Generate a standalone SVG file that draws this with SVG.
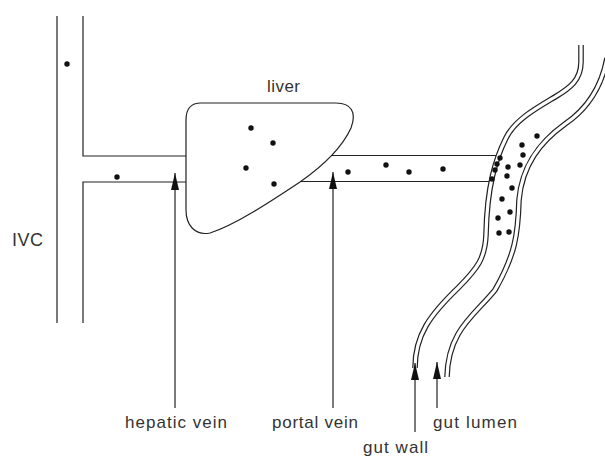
<svg xmlns="http://www.w3.org/2000/svg" width="605" height="457" viewBox="0 0 605 457">
<style>
.ln{fill:none;stroke:#222;stroke-width:1.2}
.wo{fill:none;stroke:#222;stroke-width:5.6}
.wi{fill:none;stroke:#fff;stroke-width:3.2}
.dot{fill:#111}
.lbl{font-family:"Liberation Sans",Arial,sans-serif;font-size:17px;fill:#333}
.arr{fill:none;stroke:#222;stroke-width:1.2;marker-end:url(#ah)}
</style>
<defs>
<marker id="ah" markerUnits="userSpaceOnUse" viewBox="0 0 17 8" refX="17" refY="4" markerWidth="17" markerHeight="8" orient="auto">
<path d="M0,0 L17,4 L0,8 z" fill="#111"/>
</marker>
<path id="lw" d="M581,45 L581,62 C581,80 570,88 555,97 C535,109 515,120 506,138 C496,158 487,185 486,235 C485,258 478,268 458,288 C430,315 415,335 415,368"/>
<path id="rw" d="M607,58 C602,85 590,107 565,124 C540,142 522,165 519,200 C518,235 515,255 495,290 C475,315 448,330 447,377"/>
</defs>
<rect width="605" height="457" fill="#fff"/>
<g id="ivc">
<path class="ln" d="M57,16 V323 M83,16 V156 H186 M83,323 V182 H186"/>
<circle class="dot" cx="67" cy="64" r="2.7"/>
<circle class="dot" cx="117" cy="177" r="2.7"/>
</g>
<g id="liver">
<path class="ln" d="M201,103 H336 C351,103 357,112 351,128 C341,150 320,168 300,182 C270,202 235,225 210,233 C195,236 186,225 186,210 V120 C186,108 192,103 201,103 Z"/>
<circle class="dot" cx="251" cy="128" r="2.7"/>
<circle class="dot" cx="273" cy="143" r="2.7"/>
<circle class="dot" cx="246" cy="168" r="2.7"/>
<circle class="dot" cx="274" cy="184" r="2.7"/>
</g>
<g id="portal-vein">
<path class="ln" d="M331,155.5 H497 M301,181.5 H490"/>
<circle class="dot" cx="348" cy="172" r="2.7"/>
<circle class="dot" cx="386" cy="165" r="2.7"/>
<circle class="dot" cx="409" cy="172" r="2.7"/>
<circle class="dot" cx="443" cy="169" r="2.7"/>
</g>
<g id="gut">
<use href="#lw" class="wo"/>
<use href="#lw" class="wi"/>
<use href="#rw" class="wo"/>
<use href="#rw" class="wi"/>
<circle class="dot" cx="500" cy="158" r="2.7"/>
<circle class="dot" cx="497" cy="164" r="2.7"/>
<circle class="dot" cx="495" cy="170" r="2.7"/>
<circle class="dot" cx="492" cy="179" r="2.7"/>
<circle class="dot" cx="537" cy="136" r="2.7"/>
<circle class="dot" cx="522" cy="145" r="2.7"/>
<circle class="dot" cx="523" cy="155" r="2.7"/>
<circle class="dot" cx="520" cy="165" r="2.7"/>
<circle class="dot" cx="508" cy="167" r="2.7"/>
<circle class="dot" cx="507" cy="176" r="2.7"/>
<circle class="dot" cx="512" cy="188" r="2.7"/>
<circle class="dot" cx="502" cy="199" r="2.7"/>
<circle class="dot" cx="510" cy="212" r="2.7"/>
<circle class="dot" cx="498" cy="218" r="2.7"/>
<circle class="dot" cx="499" cy="233" r="2.7"/>
<circle class="dot" cx="509" cy="232" r="2.7"/>
</g>
<g id="connectors">
<path class="arr" d="M175,408 V173"/>
<path class="arr" d="M333,408 V172"/>
<path class="arr" d="M415,432 V363"/>
<path class="arr" d="M437,408 V362"/>
</g>
<g id="labels">
<text class="lbl" x="267" y="92" textLength="33">liver</text>
<text class="lbl" x="12" y="246" textLength="31" style="font-size:18px">IVC</text>
<text class="lbl" x="125" y="428" textLength="102">hepatic vein</text>
<text class="lbl" x="272" y="428" textLength="86">portal vein</text>
<text class="lbl" x="433" y="428" textLength="84">gut lumen</text>
<text class="lbl" x="363" y="453" textLength="65">gut wall</text>
</g>
</svg>
